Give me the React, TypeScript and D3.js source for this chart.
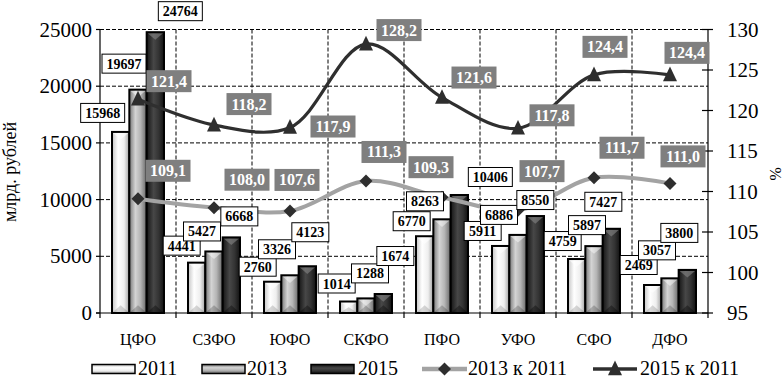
import React from 'react';
import * as d3 from 'd3';

const categories = ['ЦФО', 'СЗФО', 'ЮФО', 'СКФО', 'ПФО', 'УФО', 'СФО', 'ДФО'];
const years = ['2011', '2013', '2015'];
const values2011 = [15968, 4441, 2760, 1014, 6770, 5911, 4759, 2469];
const values2013 = [19697, 5427, 3326, 1288, 8263, 6886, 5897, 3057];
const values2015 = [24764, 6668, 4123, 1674, 10406, 8550, 7427, 3800];
const ratio2013 = [109.1, 108.0, 107.6, 111.3, 109.3, 107.7, 111.7, 111.0];
const ratio2015 = [121.4, 118.2, 117.9, 128.2, 121.6, 117.8, 124.4, 124.4];
const leftTicks = [0, 5000, 10000, 15000, 20000, 25000];
const rightTicks = [95, 100, 105, 110, 115, 120, 125, 130];
const lineNames = ['2013 к 2011', '2015 к 2011'];

// label placement offsets (pixels, relative to the anchor point)
const barLabelOffsets = [
  [[-18, -19], [-15, -17], [-15, -15], [-12, -18], [-13, -15], [-18, -15], [-14, -18], [-14, -20]],
  [[-14, -26], [-12, -20], [-13, -26], [4, -25], [-17, -18], [-19, -20], [-7, -21], [-13, -28]],
  [[25, -21], [8, -21], [3, -34], [12, -38], [31, -18], [0, -16], [-8, -27], [-8, -37]],
];
const ratioLabelOffsets = [
  [[30, -28], [33, -28], [7, -31], [18, -29], [-11, -30], [24, -39], [28, -30], [13, -27]],
  [[31, -18], [35, -21], [43, -1], [33, -14], [32, -20], [34, -13], [11, -28], [17, -22]],
];

const W = 783, H = 378;
const L = 100, R = 708, T = 29.5, B = 313;
const FONT = 'Liberation Serif';

const gradStops = [
  [['0', '#c4c4c4'], ['0.35', '#ffffff'], ['0.7', '#eeeeee'], ['1', '#a0a0a0']],
  [['0', '#777777'], ['0.35', '#d4d4d4'], ['0.65', '#b4b4b4'], ['1', '#666666']],
  [['0', '#151515'], ['0.4', '#474747'], ['0.7', '#333333'], ['1', '#111111']],
];
const topShade = ['rgba(255,255,255,0.6)', 'rgba(255,255,255,0.45)', 'rgba(140,140,140,0.55)'];
const botShade = ['rgba(0,0,0,0.15)', 'rgba(0,0,0,0.2)', 'rgba(0,0,0,0.35)'];

const tStyle = { fontFamily: FONT };

export default function App() {
  const x = d3.scaleBand<string>().domain(categories).range([L, R]).padding(0);
  const xs = d3.scaleBand<string>().domain(years).range([12, 64]);
  const yL = d3.scaleLinear().domain([0, 25000]).range([B, T]);
  const yR = d3.scaleLinear().domain([95, 130]).range([B, T]);
  const bw = xs.bandwidth();
  const seriesVals = [values2011, values2013, values2015];
  const ratios = [ratio2013, ratio2015];
  const lineColors = ['#a3a3a3', '#2f2f2f'];
  const lineWidths = [4, 3.2];
  const cx = (c: string) => (x(c) as number) + x.bandwidth() / 2;

  const lineGen = d3
    .line<[number, number]>()
    .x((d) => d[0])
    .y((d) => d[1])
    .curve(d3.curveCatmullRom.alpha(0.5));

  const fmtPct = (v: number) => v.toFixed(1).replace('.', ',');

  const diamond = (px: number, py: number, r: number) =>
    `M${px},${py - r}L${px + r},${py}L${px},${py + r}L${px - r},${py}Z`;
  const triangle = (px: number, py: number, s: number) =>
    `M${px},${py - s * 0.6}L${px + s / 2},${py + s * 0.45}L${px - s / 2},${py + s * 0.45}Z`;

  const bars: React.ReactNode[] = [];
  const barLabels: React.ReactNode[] = [];
  seriesVals.forEach((vals, si) => {
    vals.forEach((v, ci) => {
      const c = categories[ci];
      const x0 = (x(c) as number) + (xs(years[si]) as number);
      const y0 = yL(v);
      const h = B - y0;
      const bev = Math.min(bw / 2 - 1, h / 2);
      bars.push(
        <g key={`b${si}-${ci}`}>
          <rect x={x0} y={y0} width={bw} height={h} fill={`url(#g${si})`} />
          <path
            d={`M${x0 + 1},${y0 + 1}L${x0 + bw - 1},${y0 + 1}L${x0 + bw / 2},${y0 + bev}Z`}
            fill={topShade[si]}
          />
          <path
            d={`M${x0 + 1},${B - 1}L${x0 + bw - 1},${B - 1}L${x0 + bw / 2},${B - bev}Z`}
            fill={botShade[si]}
          />
          <rect x={x0} y={y0} width={bw} height={h} fill="none" stroke="#000" strokeWidth={2} />
        </g>
      );
      const [dx, dy] = barLabelOffsets[si][ci];
      const lx = x0 + bw / 2 + dx;
      const ly = y0 + dy;
      const txt = String(v);
      const tw = txt.length * 7 + 9;
      barLabels.push(
        <g key={`bl${si}-${ci}`}>
          <rect x={lx - tw / 2} y={ly - 9.5} width={tw} height={19} fill="#fff" stroke="#000" strokeWidth={1} />
          <text x={lx} y={ly + 5} textAnchor="middle" fontSize={14} fontWeight="bold" style={tStyle} fill="#000">
            {txt}
          </text>
        </g>
      );
    });
  });

  const lines: React.ReactNode[] = [];
  const markers: React.ReactNode[] = [];
  const ratioLabels: React.ReactNode[] = [];
  ratios.forEach((vals, li) => {
    const pts: [number, number][] = vals.map((v, i) => [cx(categories[i]), yR(v)]);
    lines.push(
      <path key={`l${li}`} d={lineGen(pts) || ''} fill="none" stroke={lineColors[li]} strokeWidth={lineWidths[li]} strokeLinejoin="round" />
    );
    pts.forEach(([px, py], i) => {
      markers.push(
        <path
          key={`m${li}-${i}`}
          d={li === 0 ? diamond(px, py, 6.5) : triangle(px, py, 14)}
          fill="#2e2e2e"
        />
      );
      const [dx, dy] = ratioLabelOffsets[li][i];
      const lx = px + dx;
      const ly = py + dy;
      const tw = 45;
      ratioLabels.push(
        <g key={`rl${li}-${i}`}>
          <rect x={lx - tw / 2} y={ly - 11} width={tw} height={22} fill="#7f7f7f" />
          <text x={lx} y={ly + 5.5} textAnchor="middle" fontSize={16} fontWeight="bold" style={tStyle} fill="#fff">
            {fmtPct(vals[i])}
          </text>
        </g>
      );
    });
  });

  // legend layout
  const legY = 369;
  const legBase = 375;
  const legBars = [
    { x: 92, tx: 138 },
    { x: 202, tx: 247 },
    { x: 311, tx: 358 },
  ];
  const legLines = [
    { x1: 422, x2: 467, tx: 468 },
    { x1: 593, x2: 637, tx: 640 },
  ];

  return (
    <svg width={W} height={H} style={{ position: 'absolute', left: 0, top: 0, background: '#fff', fontFamily: FONT }}>
      <defs>
        {gradStops.map((stops, i) => (
          <linearGradient key={i} id={`g${i}`} x1="0" x2="1" y1="0" y2="0">
            {stops.map(([o, c]) => (
              <stop key={o} offset={o} stopColor={c} />
            ))}
          </linearGradient>
        ))}
        {gradStops.map((stops, i) => (
          <linearGradient key={`v${i}`} id={`gv${i}`} x1="0" x2="0" y1="0" y2="1">
            {stops.map(([o, c]) => (
              <stop key={o} offset={o} stopColor={c} />
            ))}
          </linearGradient>
        ))}
      </defs>
      <rect x={0} y={0} width={W} height={H} fill="#fff" />

      {/* gridlines */}
      {leftTicks.slice(1).map((t) => (
        <line key={`hg${t}`} x1={L} x2={R} y1={yL(t)} y2={yL(t)} stroke="#000" strokeWidth={1} strokeDasharray="4 2" />
      ))}
      {categories.slice(1).map((c) => (
        <line key={`vg${c}`} x1={x(c) as number} x2={x(c) as number} y1={T} y2={B} stroke="#000" strokeWidth={1} strokeDasharray="4 2" />
      ))}

      {/* axes */}
      <line x1={L} x2={L} y1={T} y2={B} stroke="#000" strokeWidth={1.2} />
      <line x1={R} x2={R} y1={T} y2={B} stroke="#000" strokeWidth={1.2} />
      <line x1={L - 4} x2={R} y1={B} y2={B} stroke="#000" strokeWidth={1.2} />
      {leftTicks.map((t) => (
        <g key={`lt${t}`}>
          <line x1={L - 4} x2={L} y1={yL(t)} y2={yL(t)} stroke="#000" strokeWidth={1.2} />
          <text x={92} y={yL(t) + 7} textAnchor="end" fontSize={21} style={tStyle} fill="#000">
            {t}
          </text>
        </g>
      ))}
      {rightTicks.map((t) => (
        <g key={`rt${t}`}>
          <line x1={R - 6} x2={R + 5} y1={yR(t)} y2={yR(t)} stroke="#000" strokeWidth={1.2} />
          <text x={727} y={yR(t) + 7} textAnchor="start" fontSize={21} style={tStyle} fill="#000">
            {t}
          </text>
        </g>
      ))}
      {categories.map((c, i) => (
        <line key={`bt${i}`} x1={x(c) as number} x2={x(c) as number} y1={B} y2={B + 5} stroke="#000" strokeWidth={1.2} />
      ))}
      <line x1={R} x2={R} y1={B} y2={B + 5} stroke="#000" strokeWidth={1.2} />
      {categories.map((c) => (
        <text key={`cl${c}`} x={cx(c)} y={345} textAnchor="middle" fontSize={16} style={tStyle} fill="#000">
          {c}
        </text>
      ))}

      {/* axis titles */}
      <text transform="translate(16,172) rotate(-90)" textAnchor="middle" fontSize={18} style={tStyle} fill="#000">
        млрд. рублей
      </text>
      <text transform="translate(770,174) rotate(90)" textAnchor="middle" fontSize={16} style={tStyle} fill="#000">
        %
      </text>

      {bars}
      {lines}
      {markers}
      {barLabels}
      {ratioLabels}

      {/* legend */}
      {legBars.map((lb, i) => (
        <g key={`lb${i}`}>
          <rect x={lb.x} y={legY - 4.5} width={43} height={9} fill={`url(#gv${i})`} stroke="#000" strokeWidth={1.5} />
          <text x={lb.tx} y={legBase} fontSize={20} style={tStyle} fill="#000">
            {years[i]}
          </text>
        </g>
      ))}
      {legLines.map((ll, i) => {
        const mx = (ll.x1 + ll.x2) / 2;
        return (
          <g key={`ll${i}`}>
            <line x1={ll.x1} x2={ll.x2} y1={legY} y2={legY} stroke={lineColors[i]} strokeWidth={lineWidths[i] + 0.5} />
            <path d={i === 0 ? diamond(mx, legY, 6.5) : triangle(mx, legY, 14)} fill="#2e2e2e" />
            <text x={ll.tx} y={legBase} fontSize={20} style={tStyle} fill="#000">
              {lineNames[i]}
            </text>
          </g>
        );
      })}
    </svg>
  );
}
